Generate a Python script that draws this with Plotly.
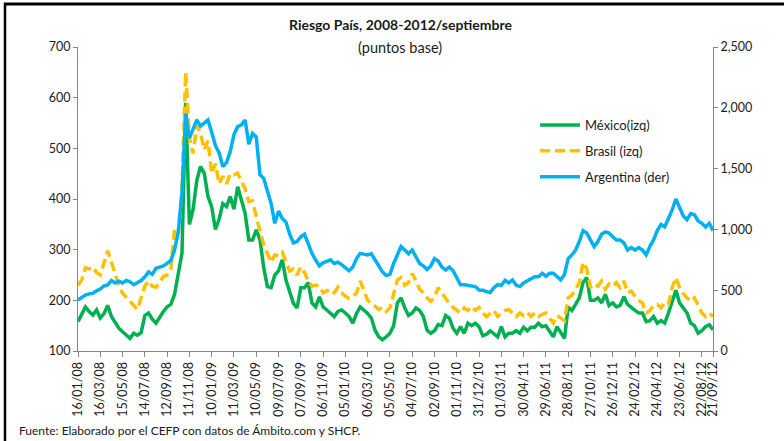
import pandas as pd
import plotly.graph_objects as go

start_date = "2008-01-16"
n_points = 172

mexico = [158, 172, 187, 178, 171, 181, 165, 174, 190, 168,
          155, 145, 138, 131, 125, 135, 131, 136, 170, 175,
          163, 155, 168, 178, 187, 192, 212, 253, 293, 590,
          350, 380, 437, 464, 451, 405, 385, 340, 360, 391,
          385, 405, 380, 424, 398, 372, 319, 319, 339, 320,
          265, 227, 225, 250, 258, 280, 240, 214, 194, 185,
          225, 225, 235, 195, 187, 207, 187, 181, 175, 168,
          178, 181, 175, 168, 155, 174, 187, 181, 174, 165,
          141, 128, 122, 128, 135, 150, 195, 205, 185, 170,
          175, 185, 180, 168, 141, 135, 140, 152, 150, 170,
          165, 145, 135, 148, 135, 155, 150, 155, 148, 130,
          133, 140, 133, 128, 148, 128, 135, 135, 140, 135,
          147, 140, 147, 147, 155, 148, 150, 140, 128, 148,
          135, 125, 187, 180, 192, 205, 235, 245, 200, 200,
          205, 195, 212, 190, 195, 187, 190, 207, 192, 185,
          180, 175, 175, 158, 160, 168, 155, 160, 155, 175,
          200, 220, 195, 185, 175, 155, 150, 135, 140, 148,
          152, 142]

brasil = [230, 240, 264, 262, 266, 255, 250, 275, 298, 275,
          250, 230, 214, 206, 200, 190, 182, 205, 228, 238,
          228, 226, 235, 247, 250, 262, 340, 330, 420, 650,
          520, 490, 545, 530, 497, 515, 450, 470, 430, 445,
          430, 450, 448, 451, 437, 420, 395, 396, 365, 340,
          310, 293, 275, 290, 288, 295, 275, 258, 262, 250,
          266, 255, 238, 228, 230, 228, 215, 218, 222, 215,
          226, 215, 208, 204, 208, 214, 238, 220, 200, 194,
          187, 182, 186, 178, 185, 215, 240, 245, 230, 235,
          253, 238, 222, 215, 205, 198, 205, 225, 214, 206,
          194, 186, 180, 175, 185, 180, 188, 180, 186, 175,
          168, 174, 180, 168, 175, 180, 182, 175, 168, 175,
          170, 176, 168, 175, 168, 172, 175, 165, 155, 170,
          165, 160, 205, 210, 222, 235, 275, 262, 225, 232,
          228, 238, 222, 232, 228, 235, 225, 238, 215, 218,
          208, 200, 195, 175, 180, 190, 192, 185, 195, 192,
          225, 245, 225, 213, 205, 198, 205, 190, 175, 168,
          175, 168]

argentina = [420, 440, 460, 470, 474, 495, 510, 535, 543, 580,
             560, 575, 560, 580, 570, 545, 565, 580, 610, 650,
             630, 680, 690, 700, 720, 745, 830, 980, 1300, 1950,
             1750, 1820, 1900, 1850, 1880, 1900, 1800, 1690, 1630, 1516,
             1550, 1640, 1780, 1845, 1860, 1900, 1700, 1790, 1760, 1450,
             1420, 1324, 1214, 1050, 1150, 1090, 1060, 960, 890, 900,
             940, 960, 880, 803, 748, 700, 725, 740, 750, 720,
             730, 710, 680, 660, 690, 760, 803, 800, 790, 800,
             750, 694, 650, 620, 630, 720, 800, 860, 830, 800,
             830, 780, 720, 700, 670, 700, 760, 740, 690, 666,
             690, 660, 600, 545, 545, 540, 530, 530, 502, 500,
             488, 480, 520, 545, 540, 580, 560, 584, 540, 530,
             560, 575, 590, 611, 611, 639, 615, 639, 639, 610,
             585, 630, 760, 790, 830, 900, 990, 970, 910, 858,
             900, 960, 980, 970, 940, 913, 913, 890, 830, 850,
             830, 850, 830, 790, 860, 913, 990, 1040, 1020, 1090,
             1160, 1250, 1180, 1110, 1080, 1130, 1120, 1070, 1050, 1020,
             1050, 990]

tick_labels = ["16/01/08", "16/03/08", "15/05/08", "14/07/08", "12/09/08",
               "11/11/08", "10/01/09", "11/03/09", "10/05/09", "09/07/09",
               "07/09/09", "06/11/09", "05/01/10", "06/03/10", "05/05/10",
               "04/07/10", "02/09/10", "01/11/10", "31/12/10", "01/03/11",
               "30/04/11", "29/06/11", "28/08/11", "27/10/11", "26/12/11",
               "24/02/12", "24/04/12", "23/06/12", "22/08/12", "21/09/12"]

series_names = ["México(izq)", "Brasil (izq)", "Argentina (der)"]

# ---- build ----
dates = pd.date_range(start_date, periods=n_points, freq="10D")
tick_vals = pd.to_datetime(tick_labels, format="%d/%m/%y")

FONT = "Lato"
TXT = "#1a1a1a"
AX = "#868686"

fig = go.Figure()
fig.add_trace(go.Scatter(x=dates, y=mexico, name=series_names[0], mode="lines",
                         line=dict(color="#00B050", width=3.5), legendgroup="a",
                         legendrank=1))
fig.add_trace(go.Scatter(x=dates, y=brasil, name=series_names[1], mode="lines",
                         line=dict(color="#FFC000", width=3.5, dash="10px,5px"),
                         legendgroup="b", legendrank=2))
fig.add_trace(go.Scatter(x=dates, y=argentina, name=series_names[2], mode="lines",
                         line=dict(color="#00B0F0", width=3.5), legendgroup="c",
                         legendrank=3, yaxis="y2"))

L, R, T, B = 78, 71, 47, 90
W, H = 784, 441
pw, ph = W - L - R, H - T - B

def px_x(p):
    return (p - L) / pw

def px_y(p):
    return (H - B - p) / ph

fig.update_layout(
    width=W, height=H,
    margin=dict(l=L, r=R, t=T, b=B, autoexpand=False),
    paper_bgcolor="white", plot_bgcolor="white",
    font=dict(family=FONT, size=12.5, color=TXT),
    showlegend=True,
    legend=dict(x=px_x(535), y=px_y(110), xanchor="left", yanchor="top",
                bgcolor="rgba(0,0,0,0)", font=dict(size=13, color=TXT),
                traceorder="grouped", tracegroupgap=6, itemwidth=40),
    xaxis=dict(type="date", range=[dates[0], dates[-1]],
               tickmode="array", tickvals=tick_vals, ticktext=tick_labels,
               tickangle=-90, showline=True, linecolor=AX, linewidth=1,
               ticks="outside", ticklen=5, tickcolor=AX, showgrid=False,
               zeroline=False, tickfont=dict(size=12.5, color=TXT)),
    yaxis=dict(range=[100, 700], dtick=100, tick0=100, showline=True,
               linecolor=AX, linewidth=1, ticks="outside", ticklen=4,
               tickcolor=AX, showgrid=False, zeroline=False,
               tickfont=dict(size=12.5, color=TXT)),
    yaxis2=dict(range=[0, 2500], dtick=500, overlaying="y", side="right",
                showline=True, linecolor=AX, linewidth=1, ticks="outside",
                ticklen=4, tickcolor=AX, showgrid=False, zeroline=False,
                tickformat=",d", tickfont=dict(size=12.5, color=TXT)),
)

fig.add_annotation(x=px_x(400), y=px_y(25), xref="paper", yref="paper",
                   text="<b>Riesgo País, 2008-2012/septiembre</b>", showarrow=False,
                   font=dict(size=14, color=TXT), xanchor="center", yanchor="middle")
fig.add_annotation(x=px_x(400), y=px_y(47), xref="paper", yref="paper",
                   text="(puntos base)", showarrow=False,
                   font=dict(size=14.5, color=TXT), xanchor="center", yanchor="middle")
fig.add_annotation(x=px_x(17), y=px_y(430), xref="paper", yref="paper",
                   text="Fuente: Elaborado por el CEFP con datos de Ámbito.com y SHCP.",
                   showarrow=False, font=dict(size=12, color=TXT),
                   xanchor="left", yanchor="middle")

# outer chart frame (left and top edges visible)
fig.add_shape(type="line", xref="paper", yref="paper",
              x0=px_x(5), x1=px_x(5), y0=px_y(3), y1=px_y(445),
              line=dict(color="black", width=2.5))
fig.add_shape(type="line", xref="paper", yref="paper",
              x0=px_x(4), x1=px_x(790), y0=px_y(4), y1=px_y(4),
              line=dict(color="black", width=3))

# page body has a default 8px margin; remove it so the figure sits at the window origin
fig.write_html("out.html", config={"displayModeBar": False},
               post_script="document.body.style.margin='0';")
